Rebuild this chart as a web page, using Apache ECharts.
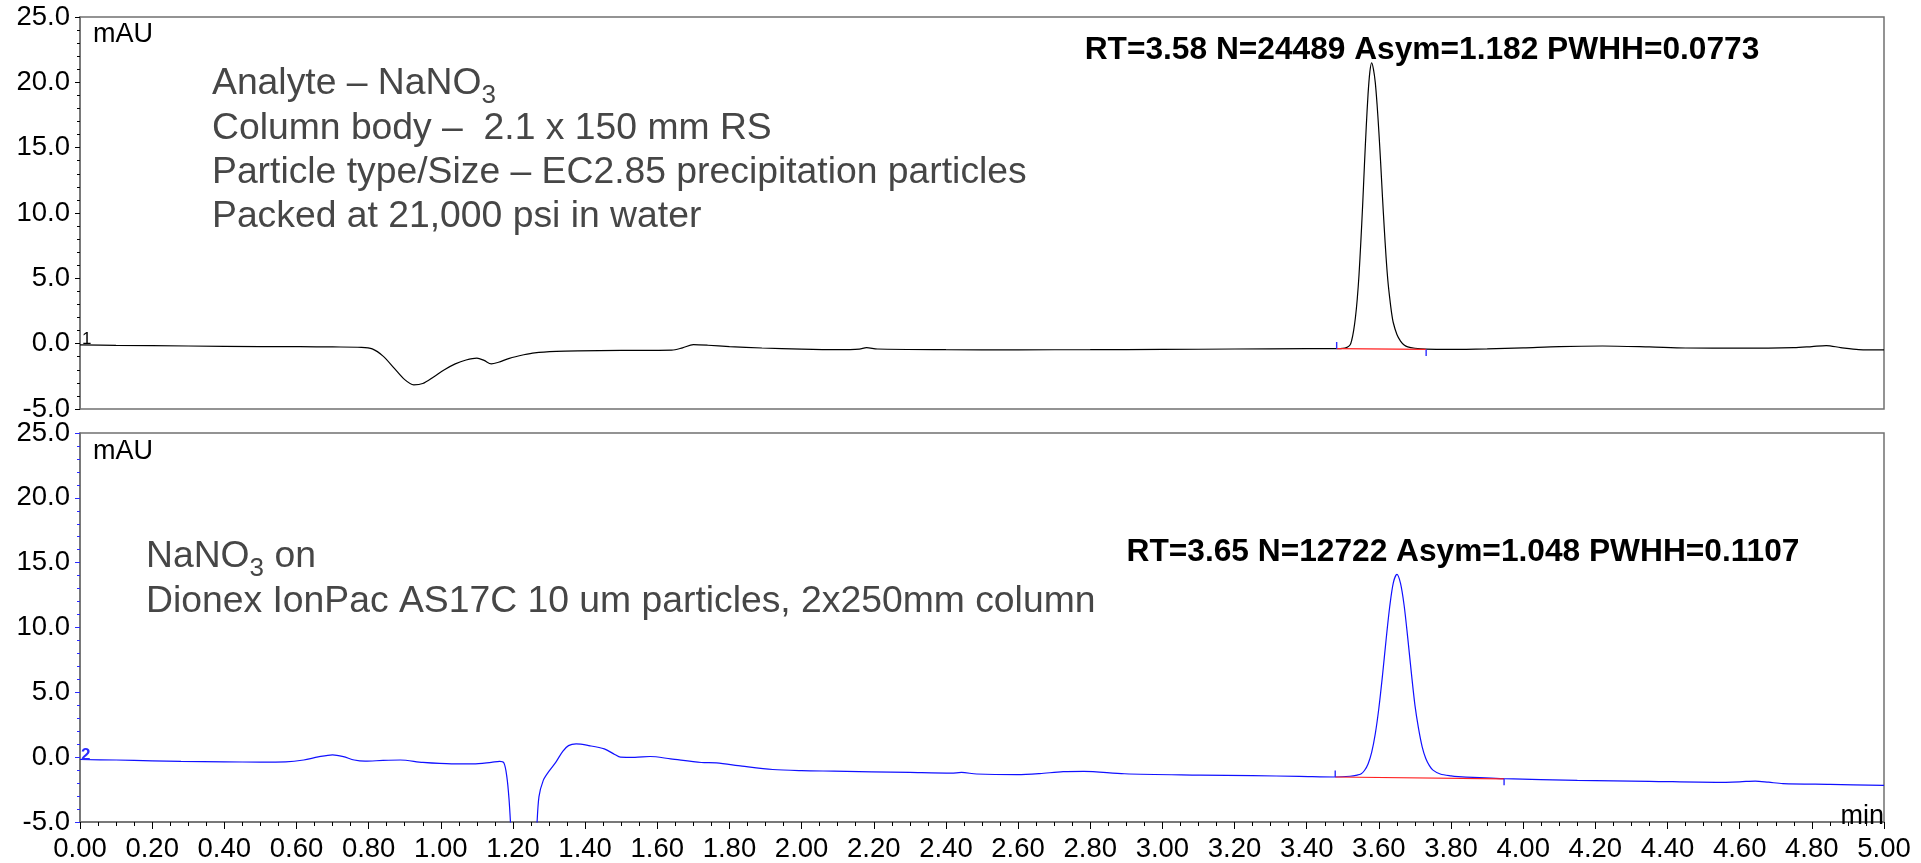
<!DOCTYPE html>
<html>
<head>
<meta charset="utf-8">
<script src="https://cdn.jsdelivr.net/npm/echarts@6/dist/echarts.min.js"></script>
<style>
  html, body { margin: 0; padding: 0; background: #ffffff; }
  #chart { width: 1921px; height: 863px; }
</style>
</head>
<body>
<div id="chart"></div>
<script>
const FONT = "'Liberation Sans', Arial, Helvetica, sans-serif";

// Axis ranges shared by both panels (retention time in min, absorbance in mAU)
const timeRange = [0, 5];
const timeStep = 0.2;
const absRange = [-5, 25];
const absStep = 5;

// Chromatogram 1: NaNO3 on the 2.1 x 150 mm EC2.85 column  [min, mAU]
const trace1 = [
  [0.00,-0.10],[0.10,-0.13],[0.30,-0.18],[0.50,-0.22],[0.61,-0.23],[0.70,-0.25],[0.78,-0.28],
  [0.81,-0.40],[0.84,-0.95],[0.87,-1.85],[0.90,-2.75],[0.925,-3.15],[0.95,-3.05],[0.98,-2.55],
  [1.01,-2.00],[1.04,-1.55],[1.07,-1.25],[1.10,-1.10],[1.12,-1.28],[1.14,-1.55],[1.16,-1.42],
  [1.19,-1.12],[1.23,-0.85],[1.26,-0.70],[1.32,-0.59],[1.38,-0.55],[1.50,-0.52],[1.64,-0.50],
  [1.67,-0.32],[1.70,-0.08],[1.74,-0.12],[1.80,-0.22],[1.89,-0.33],[2.00,-0.42],[2.10,-0.46],
  [2.16,-0.42],[2.18,-0.31],[2.21,-0.41],[2.40,-0.46],[2.60,-0.47],[2.80,-0.46],[3.00,-0.44],
  [3.20,-0.41],[3.40,-0.38],[3.483,-0.38],[3.50,-0.36],[3.51,-0.30],[3.52,-0.10],[3.525,0.30],
  [3.53,1.00],[3.535,2.00],[3.54,3.40],[3.545,5.30],[3.55,7.80],[3.555,10.60],[3.56,13.70],
  [3.565,16.60],[3.57,19.10],[3.575,20.80],[3.58,21.50],[3.585,21.00],[3.59,20.00],[3.595,18.30],
  [3.60,16.20],[3.605,13.80],[3.61,11.20],[3.615,8.80],[3.62,6.60],[3.625,4.80],[3.63,3.50],
  [3.635,2.40],[3.64,1.60],[3.65,0.70],[3.66,0.20],[3.67,-0.10],[3.68,-0.25],[3.70,-0.35],
  [3.731,-0.42],[3.80,-0.44],[3.90,-0.40],[4.00,-0.32],[4.10,-0.22],[4.22,-0.18],[4.35,-0.25],
  [4.45,-0.33],[4.60,-0.34],[4.75,-0.30],[4.80,-0.22],[4.84,-0.15],[4.88,-0.30],[4.93,-0.45],
  [5.00,-0.48]
];

// Chromatogram 2: NaNO3 on Dionex IonPac AS17C  [min, mAU]
const trace2 = [
  [0.00,-0.18],[0.10,-0.22],[0.20,-0.28],[0.28,-0.33],[0.40,-0.36],[0.50,-0.38],[0.57,-0.36],
  [0.62,-0.22],[0.66,0.02],[0.70,0.18],[0.73,0.04],[0.76,-0.22],[0.79,-0.31],[0.84,-0.25],
  [0.888,-0.22],[0.95,-0.40],[1.03,-0.51],[1.09,-0.51],[1.14,-0.40],[1.163,-0.33],[1.175,-0.45],
  [1.183,-1.50],[1.189,-3.20],[1.194,-5.50],[1.20,-9.00],[1.26,-9.00],[1.266,-5.50],[1.272,-3.06],
  [1.284,-1.79],[1.298,-1.15],[1.319,-0.38],[1.338,0.45],[1.354,0.89],[1.375,1.02],[1.411,0.89],
  [1.453,0.64],[1.482,0.21],[1.498,0.00],[1.538,-0.02],[1.58,0.05],[1.637,-0.13],[1.722,-0.41],
  [1.764,-0.44],[1.835,-0.69],[1.92,-0.95],[2.00,-1.04],[2.089,-1.08],[2.30,-1.18],[2.415,-1.23],
  [2.443,-1.18],[2.485,-1.30],[2.598,-1.35],[2.66,-1.27],[2.725,-1.12],[2.782,-1.10],[2.895,-1.28],
  [3.104,-1.38],[3.25,-1.43],[3.38,-1.48],[3.48,-1.53],[3.52,-1.47],[3.54,-1.38],[3.55,-1.30],
  [3.56,-1.03],[3.57,-0.52],[3.58,0.37],[3.59,1.79],[3.60,3.79],[3.61,6.30],[3.62,9.06],
  [3.63,11.60],[3.64,13.45],[3.65,14.10],[3.66,13.40],[3.67,11.70],[3.68,9.20],[3.69,6.50],
  [3.70,4.00],[3.71,2.20],[3.72,0.80],[3.73,-0.10],[3.74,-0.65],[3.75,-1.00],[3.77,-1.30],
  [3.80,-1.45],[3.82,-1.50],[3.947,-1.66],[4.15,-1.79],[4.35,-1.86],[4.534,-1.94],[4.60,-1.90],
  [4.643,-1.84],[4.68,-1.93],[4.72,-2.04],[4.85,-2.10],[5.00,-2.17]
];

// Integration baselines (red) and peak start/end delimiters (blue): [min, mAU from, mAU to]
const baseline1 = [[3.483, -0.38], [3.731, -0.44]];
const baseline2 = [[3.479, -1.53], [3.947, -1.68]];
const delimiters1 = [[3.483, -0.38, 0.12], [3.731, -0.44, -0.95]];
const delimiters2 = [[3.479, -1.53, -1.02], [3.947, -1.68, -2.17]];

// Peak report strings
const peakReports = [
  'RT=3.58 N=24489 Asym=1.182 PWHH=0.0773',
  'RT=3.65 N=12722 Asym=1.048 PWHH=0.1107'
];

// Method notes (rich text tokens: m = normal, s = subscript)
const notes1 = [
  '{m|Analyte \u2013 NaNO}{s|3}',
  '{m|Column body \u2013  2.1 x 150 mm RS}',
  '{m|Particle type/Size \u2013 EC2.85 precipitation particles}',
  '{m|Packed at 21,000 psi in water}'
];
const notes2 = [
  '{m|NaNO}{s|3}{m| on}',
  '{m|Dionex IonPac AS17C 10 um particles, 2x250mm column}'
];

// ---- layout ----
const L = 80, R = 37;
const G1 = { top: 17, height: 392 };
const G2 = { top: 433, height: 392 };
const FRAME = '#707070';
const BLUE = '#2b2bff';
const TICK_FONT = 27.5;

function yAxisFor(gridIndex, tickColor) {
  return {
    type: 'value', gridIndex,
    min: absRange[0], max: absRange[1], interval: absStep,
    axisLine: { show: true, onZero: false, lineStyle: { color: FRAME, width: 1.5 } },
    axisTick: { show: true, length: 5, lineStyle: { color: tickColor, width: 1 } },
    minorTick: { show: true, splitNumber: 5, length: 3, lineStyle: { color: tickColor, width: 1 } },
    splitLine: { show: false },
    axisLabel: {
      show: true, margin: 10, color: '#000', fontSize: TICK_FONT, fontFamily: FONT,
      showMinLabel: true, showMaxLabel: true,
      formatter: v => v.toFixed(1)
    }
  };
}

function lineSeries(data, xi, color, width, z) {
  return {
    type: 'line', xAxisIndex: xi, yAxisIndex: xi, data,
    showSymbol: false, symbol: 'none', smooth: 0.3, clip: true,
    lineStyle: { color, width }, z, silent: true, animation: false
  };
}

const series = [
  lineSeries(trace1, 0, '#000000', 1.2, 3),
  lineSeries(trace2, 1, '#1010ff', 1.2, 3),
  Object.assign(lineSeries(baseline1, 0, '#ff2020', 1.2, 4), { smooth: false }),
  Object.assign(lineSeries(baseline2, 1, '#ff2020', 1.2, 4), { smooth: false })
];
[[delimiters1, 0], [delimiters2, 1]].forEach(([marks, xi]) => {
  marks.forEach(m => {
    series.push(Object.assign(lineSeries([[m[0], m[1]], [m[0], m[2]]], xi, BLUE, 1.4, 5), { smooth: false }));
  });
});

function noteLines(lines, x, y0, step) {
  return lines.map((t, i) => ({
    type: 'text', x, y: y0 + i * step, silent: true, z: 10,
    style: {
      text: t, fill: '#464646', align: 'left', verticalAlign: 'middle',
      textAlign: 'left', textVerticalAlign: 'middle',
      rich: {
        m: { fontSize: 37.3, fontFamily: FONT, color: '#464646' },
        s: { fontSize: 26, fontFamily: FONT, color: '#464646', padding: [24, 0, 0, 0] }
      }
    }
  }));
}

function plainText(text, x, y, size, opts) {
  return {
    type: 'text', x, y, silent: true, z: 10,
    style: Object.assign({
      text, fill: '#000', fontSize: size, fontFamily: FONT,
      align: 'left', verticalAlign: 'middle', textAlign: 'left', textVerticalAlign: 'middle'
    }, opts || {})
  };
}

const graphics = [
  plainText('mAU', 93, 35, 27),
  plainText('mAU', 93, 452, 27),
  plainText('min', 1884, 817, 27, { align: 'right', textAlign: 'right' }),
  plainText('1', 82, 339, 17),
  plainText('2', 81, 755, 17, { fill: BLUE, fontWeight: 'bold' }),
  plainText(peakReports[0], 1422, 50, 31.7, { align: 'center', textAlign: 'center', fontWeight: 'bold' }),
  plainText(peakReports[1], 1463, 552, 31.7, { align: 'center', textAlign: 'center', fontWeight: 'bold' })
].concat(noteLines(notes1, 212, 84, 44.3), noteLines(notes2, 146, 557, 45));

const chart = echarts.init(document.getElementById('chart'), null, { renderer: 'canvas' });
chart.setOption({
  animation: false,
  backgroundColor: '#ffffff',
  textStyle: { fontFamily: FONT },
  grid: [
    { left: L, right: R, top: G1.top, height: G1.height, show: true, borderColor: FRAME, borderWidth: 1.5, backgroundColor: 'transparent' },
    { left: L, right: R, top: G2.top, height: G2.height, show: true, borderColor: FRAME, borderWidth: 1.5, backgroundColor: 'transparent' }
  ],
  xAxis: [
    {
      type: 'value', gridIndex: 0, min: timeRange[0], max: timeRange[1], interval: timeStep,
      axisLine: { show: false, onZero: false }, axisTick: { show: false },
      axisLabel: { show: false }, splitLine: { show: false }
    },
    {
      type: 'value', gridIndex: 1, min: timeRange[0], max: timeRange[1], interval: timeStep,
      axisLine: { show: true, onZero: false, lineStyle: { color: FRAME, width: 1.5 } },
      axisTick: { show: true, length: 7, lineStyle: { color: '#000', width: 1 } },
      minorTick: { show: true, splitNumber: 4, length: 4, lineStyle: { color: '#000', width: 1 } },
      splitLine: { show: false },
      axisLabel: {
        show: true, margin: 13, color: '#000', fontSize: TICK_FONT, fontFamily: FONT,
        showMinLabel: true, showMaxLabel: true,
        formatter: v => v.toFixed(2)
      }
    }
  ],
  yAxis: [yAxisFor(0, '#000'), yAxisFor(1, BLUE)],
  series,
  graphic: graphics
});
</script>
</body>
</html>
